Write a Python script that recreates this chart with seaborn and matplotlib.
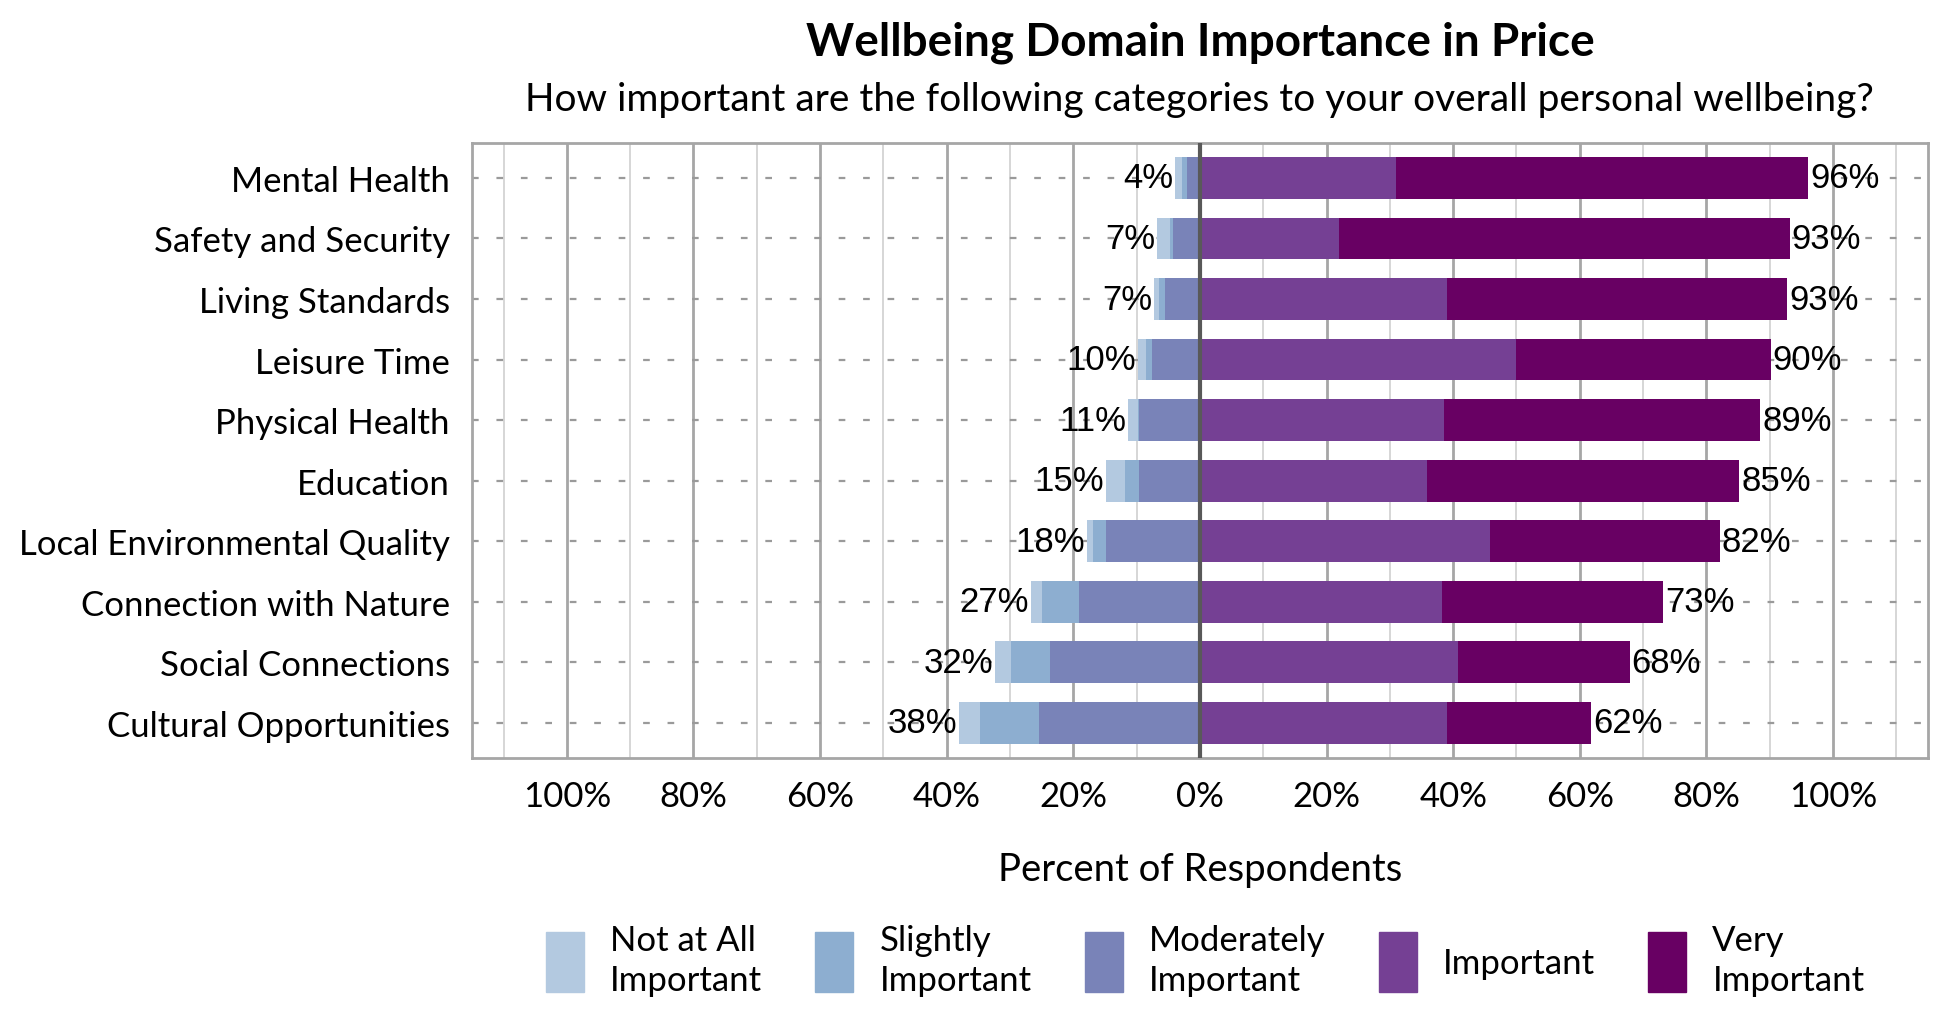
import numpy as np
import pandas as pd
import seaborn as sns
import matplotlib.pyplot as plt
from matplotlib.patches import Rectangle
from matplotlib.ticker import MultipleLocator, FuncFormatter

sns.set_theme(style="white")
plt.rcParams['font.family'] = ['Lato', 'DejaVu Sans']
plt.rcParams['text.color'] = 'black'
plt.rcParams['xtick.color'] = 'black'
plt.rcParams['ytick.color'] = 'black'
plt.rcParams['axes.labelcolor'] = 'black'

# data (percent of respondents)
categories = ['Mental Health', 'Safety and Security', 'Living Standards', 'Leisure Time',
              'Physical Health', 'Education', 'Local Environmental Quality',
              'Connection with Nature', 'Social Connections', 'Cultural Opportunities']
not_at_all = [1.0, 2.1, 0.85, 1.3, 1.5, 3.0, 1.0, 1.8, 2.5, 3.3]
slightly = [0.8, 0.5, 0.9, 0.85, 0.2, 2.1, 2.1, 5.8, 6.1, 9.4]
moderately = [2.1, 4.2, 5.5, 7.6, 9.6, 9.7, 14.8, 19.1, 23.7, 25.4]
important = [30.9, 22.0, 39.0, 49.9, 38.5, 35.9, 45.8, 38.2, 40.7, 39.0]
very = [65.2, 71.2, 53.8, 40.3, 50.0, 49.3, 36.3, 35.0, 27.2, 22.8]
neg_labels = ['4%', '7%', '7%', '10%', '11%', '15%', '18%', '27%', '32%', '38%']
pos_labels = ['96%', '93%', '93%', '90%', '89%', '85%', '82%', '73%', '68%', '62%']
legend_labels = ['Not at All\nImportant', 'Slightly\nImportant', 'Moderately\nImportant',
                 'Important', 'Very\nImportant']
colors = ['#B3C9E0', '#8DAED0', '#7983B8', '#754094', '#680063']

df = pd.DataFrame({'cat': categories, 'not': not_at_all, 'slight': slightly,
                   'mod': moderately, 'imp': important, 'very': very})
df['neg3'] = -(df['not'] + df['slight'] + df['mod'])
df['neg2'] = -(df['slight'] + df['mod'])
df['neg1'] = -df['mod']
df['pos2'] = df['imp'] + df['very']
df['pos1'] = df['imp']

fig = plt.figure(figsize=(19.5, 10.2), dpi=100)
ax = fig.add_axes([0.242, 0.256, 0.9887 - 0.242, 0.859 - 0.256])

bw = 0.69
# stacked via overlapping cumulative bars
for col, c in [('neg3', colors[0]), ('neg2', colors[1]), ('neg1', colors[2]),
               ('pos2', colors[4]), ('pos1', colors[3])]:
    sns.barplot(data=df, y='cat', x=col, orient='h', color=c, width=bw,
                saturation=1, edgecolor='none', linewidth=0, ax=ax, zorder=3)

ax.set_xlim(-115, 115)
ax.set_ylim(len(categories) - 0.42, -0.58)

# gridlines
ax.xaxis.set_major_locator(MultipleLocator(20))
ax.xaxis.set_minor_locator(MultipleLocator(10))
ax.xaxis.set_major_formatter(FuncFormatter(lambda v, p: f'{abs(v):.0f}%'))
ax.grid(axis='x', which='major', color='#A6A6A6', linewidth=2, zorder=0)
ax.grid(axis='x', which='minor', color='#CFCFCF', linewidth=1.2, zorder=0)
ax.grid(axis='y', which='major', color='#9A9A9A', linewidth=1.6,
        linestyle=(0, (3, 8)), zorder=0)
ax.set_axisbelow(True)
ax.axvline(0, color='#595959', linewidth=3, zorder=4)

for s in ax.spines.values():
    s.set_color('#A6A6A6')
    s.set_linewidth(2)

ax.tick_params(axis='both', which='both', length=0)
ax.tick_params(axis='x', labelsize=25, pad=16)
ax.tick_params(axis='y', labelsize=25, pad=16)
ax.set_ylabel('')
ax.set_xlabel('Percent of Respondents', fontsize=27.5, labelpad=28)

# data labels
for i in range(len(categories)):
    ax.text(df['neg3'][i] - 0.3, i, neg_labels[i], ha='right', va='center',
            fontsize=25, family=['Liberation Sans'], zorder=5)
    ax.text(df['pos2'][i] + 0.3, i, pos_labels[i], ha='left', va='center',
            fontsize=25, family=['Liberation Sans'], zorder=5)

xc = (0.242 + 0.9887) / 2
fig.text(xc, 0.958, 'Wellbeing Domain Importance in Price', ha='center', va='center',
         fontsize=33, fontweight='bold')
fig.text(xc, 0.902, 'How important are the following categories to your overall personal wellbeing?',
         ha='center', va='center', fontsize=28)

handles = [Rectangle((0, 0), 1, 1, color=c) for c in colors]
leg = fig.legend(handles, legend_labels, loc='center', bbox_to_anchor=(0.618, 0.058), ncol=5,
                 frameon=False, fontsize=25, handlelength=1.1, handleheight=2.3,
                 handletextpad=0.75, columnspacing=1.53, labelspacing=0.2)
for t in leg.get_texts():
    t.set_linespacing(1.3)

fig.savefig('out.png', dpi=100)
